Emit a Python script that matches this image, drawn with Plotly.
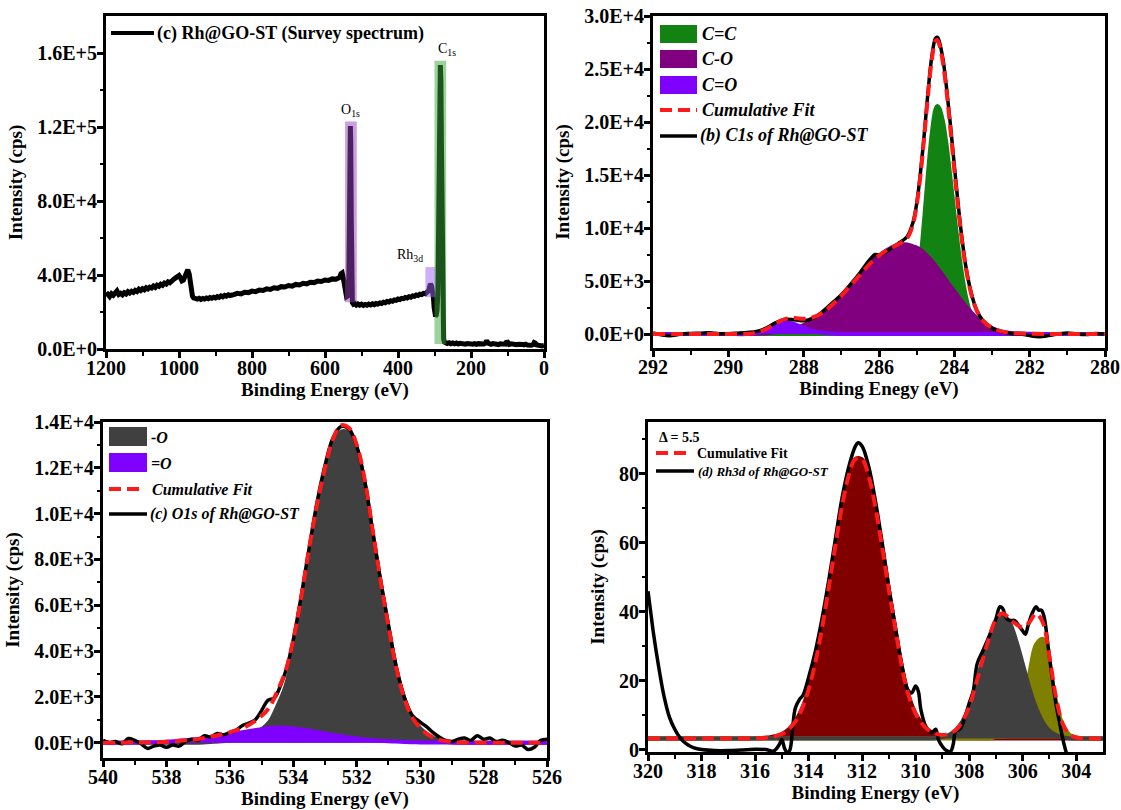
import plotly.graph_objects as go

W, H = 1121, 810
FONT = '"Liberation Serif", "Times New Roman", Times, serif'

# ---------------- (a) survey spectrum ----------------
SURVEY_E = [
    1200, 1195, 1190, 1185, 1180, 1175, 1170, 1165, 1160, 1155,
    1150, 1145, 1140, 1135, 1130, 1125, 1120, 1115, 1110, 1105,
    1100, 1095, 1090, 1085, 1080, 1075, 1070, 1065, 1060, 1055,
    1050, 1045, 1040, 1035, 1030, 1025, 1020, 1015, 1010, 1005,
    1000, 996, 992, 988, 984, 980, 976, 972, 969, 966,
    963, 960, 955, 950, 945, 940, 935, 930, 925, 920,
    915, 910, 905, 900, 895, 890, 885, 880, 875, 870,
    865, 860, 850, 840, 830, 820, 810, 800, 790, 780,
    770, 760, 750, 740, 730, 720, 710, 700, 690, 680,
    670, 660, 650, 640, 630, 620, 610, 600, 590, 580,
    570, 565, 560, 556, 553, 550, 547, 544, 541, 538,
    535, 533, 531.5, 530.5, 529.5, 528, 526.5, 525, 522, 518,
    514, 510, 505, 500, 495, 490, 485, 480, 475, 470,
    465, 460, 455, 450, 445, 440, 435, 430, 425, 420,
    415, 410, 405, 400, 395, 390, 385, 380, 375, 370,
    365, 360, 355, 350, 345, 340, 335, 330, 325, 320,
    316, 313, 311, 309, 307, 305, 303, 301, 299, 297,
    295, 293, 291, 289, 287, 285.5, 284, 282.5, 281, 279.5,
    278, 276.5, 275, 273, 270, 265, 260, 255, 250, 245,
    240, 235, 230, 225, 220, 215, 210, 205, 200, 195,
    190, 185, 180, 175, 170, 165, 160, 157, 154, 150,
    145, 140, 135, 130, 125, 120, 115, 110, 105, 102,
    99, 95, 90, 85, 80, 75, 70, 65, 60, 55,
    50, 45, 40, 35, 30, 27, 24, 20, 15, 10,
    5, 0]
SURVEY_I = [
    28800, 29600, 28400, 29900, 29100, 30200, 31400, 29500, 30100, 29300,
    30400, 29800, 31000, 30300, 31200, 30600, 31700, 31100, 32300, 31600,
    32600, 32000, 33100, 32500, 33400, 33000, 34000, 33300, 34500, 33900,
    35000, 34400, 35600, 35100, 36300, 35800, 37000, 37600, 38300, 39000,
    39700, 38500, 36800, 37200, 39500, 42000, 42800, 40500, 36000, 31000,
    28500, 27600, 27200, 27000, 27400, 26800, 27300, 27000, 27600, 27200,
    27800, 27400, 28000, 27600, 28300, 27900, 28700, 28200, 29000, 28600,
    29300, 28900, 29400, 30100, 29800, 30700, 30500, 31300, 31000, 31900,
    31600, 32500, 32200, 33100, 32800, 33700, 33500, 34300, 34000, 34900,
    34600, 35500, 35200, 36100, 35900, 36700, 36500, 37300, 37100, 37900,
    37700, 38300, 38700, 40800, 41200, 38500, 33500, 29500, 28200, 28600,
    32000, 70000, 112000, 120500, 112000, 70000, 32000, 25000, 24200, 24600,
    23800, 24300, 23700, 24200, 23600, 24100, 23700, 24300, 23800, 24400,
    24000, 24600, 24300, 24900, 24600, 25300, 25000, 25700, 25400, 26100,
    25800, 26500, 26300, 27000, 26700, 27400, 27200, 27900, 27600, 28300,
    28000, 28700, 28500, 29200, 28900, 29600, 29400, 30100, 29900, 30600,
    31500, 34000, 35200, 34500, 33000, 31500, 28000, 22500, 19500, 17500,
    18500, 21000, 30000, 60000, 110000, 145000, 153500, 145000, 110000, 65000,
    30000, 12000, 5500, 3800, 3300, 3000, 3400, 2900, 3300, 2800,
    3200, 2700, 3100, 2700, 3000, 2600, 3000, 2700, 3100, 2600,
    2900, 2500, 2900, 2600, 3000, 2700, 3300, 4600, 3200, 2900,
    2500, 2900, 2500, 2800, 2400, 2800, 2500, 2900, 2600, 4300,
    2900, 2500, 2800, 2400, 2700, 2300, 2600, 2200, 2500, 2200,
    2600, 2100, 2400, 2000, 2300, 3500, 3200, 2200, 1900, 2200,
    1700, 1900]

# highlighted regions of the survey (eV range, cps range) and their labels
REGION_LABELS = ["O<sub>1s</sub>", "Rh<sub>3d</sub>", "C<sub>1s</sub>"]
REGION_E_LO = [513, 297, 268]
REGION_E_HI = [545, 325, 300]
REGION_I_LO = [25300, 28000, 2700]
REGION_I_HI = [123000, 44300, 155800]
REGION_COLORS = ["#9a3fc0", "#a060f0", "#3aa83a"]
LABEL_E = [530, 368, 266]
LABEL_I = [123500, 45000, 156200]

# ---------------- (b) C1s ----------------
C1S_E = [292, 291.5, 291, 290.5, 290, 289.5, 289.25, 289, 288.75, 288.5,
         288.25, 288, 287.75, 287.5, 287.25, 287, 286.75, 286.5, 286.25, 286,
         285.75, 285.5, 285.25, 285.1, 285, 284.9, 284.8, 284.7, 284.6, 284.5,
         284.45, 284.4, 284.3, 284.2, 284.1, 284, 283.9, 283.8, 283.7, 283.6,
         283.5, 283.4, 283.25, 283, 282.75, 282.5, 282, 281.5, 281, 280.5, 280]
C1S_CC = [0, 0, 0, 0, 0, 0, 0, 0, 0, 0,
          0, 0, 0, 0, 0, 0, 0, 0, 0, 0,
          5, 47, 610, 2050, 4000, 7000, 10900, 15200, 18900, 21200,
          21500, 21330, 20040, 17690, 14660, 11420, 8360, 5740, 3700, 2250,
          1280, 690, 240, 30, 0, 0, 0, 0, 0, 0, 0]
C1S_CO = [0, 0, 0, 0, 0, 10, 30, 80, 170, 320,
          550, 850, 1300, 1900, 2700, 3600, 4600, 5600, 6600, 7400,
          8000, 8400, 8450, 8270, 8150, 7950, 7650, 7300, 6900, 6450,
          6220, 6000, 5500, 5000, 4500, 4050, 3550, 3100, 2650, 2250,
          1850, 1500, 1050, 550, 250, 100, 20, 0, 0, 0, 0]
C1S_CDO = [0, 0, 0, 0, 0, 0, 100, 380, 800, 1080,
           950, 580, 280, 110, 40, 10, 0, 0, 0, 0,
           0, 0, 0, 0, 0, 0, 0, 0, 0, 0,
           0, 0, 0, 0, 0, 0, 0, 0, 0, 0,
           0, 0, 0, 0, 0, 0, 0, 0, 0, 0, 0]
C1S_FIT = [0, 0, 0, 0, 0, 10, 130, 460, 970, 1400,
           1500, 1430, 1580, 2010, 2740, 3610, 4600, 5600, 6600, 7400,
           8005, 8447, 9060, 10320, 12150, 14950, 18550, 22500, 25800, 27650,
           27720, 27330, 25540, 22690, 19160, 15470, 11910, 8840, 6350, 4500,
           3130, 2190, 1290, 580, 250, 100, 20, 0, 0, 0, 0]
C1S_DATA_E = [292, 291.75, 291.5, 291.25, 291, 290.75, 290.5, 290.25, 290,
              289.75, 289.5, 289.25, 289, 288.75, 288.5, 288.25, 288, 287.75, 287.5,
              287.25, 287, 286.75, 286.5, 286.25, 286.1, 286, 285.75, 285.5, 285.25,
              285.1, 285, 284.9, 284.8, 284.7, 284.6, 284.5, 284.45, 284.4, 284.3,
              284.2, 284.1, 284, 283.9, 283.8, 283.7, 283.6, 283.5, 283.4,
              283.25, 283, 282.75, 282.5, 282.25, 282, 281.75, 281.5, 281.25, 281,
              280.75, 280.5, 280.25, 280]
C1S_DATA_I = [100, -100, -150, 0, 50, 80, 120, 30, 20,
              80, 150, 250, 550, 1050, 1380, 1350, 1250, 1500, 2100,
              2900, 3700, 4700, 5800, 7000, 7500, 7450, 7900, 8500, 9200,
              10500, 12300, 15200, 18800, 22800, 26100, 27900, 28000, 27600, 25900,
              23000, 19600, 15900, 12300, 9100, 6500, 4600, 3200, 2200,
              1300, 550, 200, 50, 0, -150, -250, -150, 0, 100,
              0, -50, 50, 0]

# ---------------- (c) O1s ----------------
O1S_E = [540, 539.5, 539, 538.5, 538, 537.5, 537, 536.5, 536, 535.5, 535,
         534.75, 534.5, 534.25, 534, 533.75, 533.5, 533.25, 533, 532.75, 532.5,
         532.25, 532, 531.75, 531.5, 531.25, 531, 530.75, 530.5, 530.25, 530,
         529.75, 529.5, 529, 528.5, 528, 527.5, 527, 526.5, 526]
O1S_SINGLE = [0, 0, 0, 0, 0, 0, 0, 40, 90, 220, 580,
              910, 1600, 2450, 3860, 5770, 7960, 9940, 11600, 12910, 13570,
              13520, 12820, 11360, 9190, 7020, 5040, 3205, 1920, 1080, 638,
              342, 165, 30, 0, 0, 0, 0, 0, 0]
O1S_DOUBLE = [0, 0, 5, 15, 40, 90, 160, 250, 360, 480, 590,
              640, 660, 650, 620, 580, 520, 460, 400, 340, 280,
              230, 180, 140, 110, 80, 60, 45, 30, 20, 12,
              8, 5, 0, 0, 0, 0, 0, 0, 0]
O1S_FIT = [0, 0, 5, 15, 40, 90, 160, 290, 450, 700, 1170,
           1550, 2260, 3100, 4480, 6350, 8480, 10400, 12000, 13250, 13850,
           13750, 13000, 11500, 9300, 7100, 5100, 3250, 1950, 1100, 650,
           350, 170, 30, 0, 0, 0, 0, 0, 0]
O1S_DATA_E = [540, 539.8, 539.6, 539.4, 539.2, 539, 538.8, 538.6, 538.4, 538.2,
              538, 537.8, 537.6, 537.4, 537.2, 537, 536.8, 536.6, 536.4, 536.2,
              536, 535.8, 535.6, 535.4, 535.2, 535,
              534.8, 534.6, 534.4, 534.2, 534,
              533.75, 533.5, 533.25, 533, 532.75, 532.5, 532.25, 532, 531.75, 531.5,
              531.25, 531, 530.75, 530.5, 530.25,
              530, 529.8, 529.6, 529.4, 529.2, 529, 528.8, 528.6, 528.4, 528.2,
              528, 527.8, 527.6, 527.4, 527.2, 527, 526.8, 526.6, 526.4, 526.2, 526]
O1S_DATA_I = [100, 0, 50, -50, 180, 100, -50, -250, -150, -100,
              -200, -100, -150, 50, 150, 100, 300, 250, 400, 350,
              450, 550, 750, 850, 1000, 1400,
              1850, 1950, 2500, 3300, 4500,
              6400, 8500, 10500, 12100, 13300, 13800, 13700, 12950, 11450, 9250,
              7100, 5150, 3300, 2000, 1200,
              900, 700, 450, 250, 100, 50, 150, 200, 100, 300,
              150, 200, 50, 100, 0, -150, -100, -300, -200, 100, 150]

# ---------------- (d) Rh3d ----------------
RH_BASE = 3.3
RH_E = [320, 319, 318, 317, 316, 315.5, 315,
        314.75, 314.5, 314.25, 314, 313.75, 313.5, 313.25, 313, 312.75, 312.5,
        312.25, 312, 311.75, 311.5, 311.25, 311, 310.75, 310.5, 310.25, 310,
        309.75, 309.5, 309.25, 309, 308.75, 308.5, 308.25, 308, 307.75, 307.5,
        307.25, 307, 306.75, 306.5, 306.25, 306, 305.75, 305.5, 305.25, 305,
        304.75, 304.5, 304.25, 304, 303.5, 303]
RH_PEAK1 = [3.3, 3.3, 3.3, 3.3, 3.35, 3.6, 4.6,
            5.9, 8.2, 11.9, 17.5, 25.3, 35.2, 46.9, 59.2, 70.6, 79.5,
            84.3, 84.2, 79.2, 70.2, 58.7, 46.4, 34.8, 23.5, 15.5, 10.5,
            7.5, 5.6, 4.6, 3.9, 3.6, 3.4, 3.3, 3.3, 3.3, 3.3,
            3.3, 3.3, 3.3, 3.3, 3.3, 3.3, 3.3, 3.3, 3.3, 3.3,
            3.3, 3.3, 3.3, 3.3, 3.3, 3.3]
RH_PEAK2 = [3.3, 3.3, 3.3, 3.3, 3.3, 3.3, 3.3,
            3.3, 3.3, 3.3, 3.3, 3.3, 3.3, 3.3, 3.3, 3.3, 3.3,
            3.3, 3.3, 3.3, 3.3, 3.3, 3.3, 3.3, 3.3, 3.3, 3.3,
            3.3, 3.3, 3.4, 3.7, 4.4, 5.7, 8.3, 12.5, 19.0, 26.0,
            32.5, 37.3, 39.0, 37.1, 31.9, 25.0, 18.0, 12.2, 8.1, 5.6,
            4.3, 3.7, 3.4, 3.3, 3.3, 3.3]
RH_PEAK3 = [3.3, 3.3, 3.3, 3.3, 3.3, 3.3, 3.3,
            3.3, 3.3, 3.3, 3.3, 3.3, 3.3, 3.3, 3.3, 3.3, 3.3,
            3.3, 3.3, 3.3, 3.3, 3.3, 3.3, 3.3, 3.3, 3.3, 3.3,
            3.3, 3.3, 3.3, 3.3, 3.3, 3.3, 3.3, 3.3, 3.3, 3.3,
            3.3, 3.8, 3.9, 4.2, 7.9, 13.8, 22.3, 30.6, 32.2, 24.7,
            14.0, 7.1, 4.4, 3.6, 3.3, 3.3]
RH_FIT = [3.3, 3.3, 3.3, 3.3, 3.35, 3.6, 4.6,
          5.9, 8.2, 11.9, 17.5, 25.3, 35.2, 46.9, 59.2, 70.6, 79.5,
          84.3, 84.2, 79.2, 70.2, 58.7, 46.4, 34.8, 23.5, 15.5, 10.5,
          7.5, 5.6, 4.7, 4.3, 4.7, 5.8, 8.3, 12.5, 19.0, 26.0,
          32.6, 37.8, 39.6, 38.0, 36.5, 35.5, 37.0, 39.5, 37.0, 27.0,
          15.0, 7.5, 4.5, 3.6, 3.3, 3.3]
RH_BASELINE = [RH_BASE for _ in RH_E]
RH_DATA_E = [320, 319.9, 319.8, 319.6, 319.4, 319.2, 319, 318.8, 318.6, 318.4,
             318.2, 318, 317.5, 317, 316.5, 316, 315.6, 315.3, 315.1, 315.0,
             314.9, 314.8, 314.7, 314.6, 314.5, 314.35, 314.2, 314, 313.75, 313.5,
             313.25, 313, 312.75, 312.5, 312.25, 312.15, 312, 311.75, 311.5, 311.25,
             311, 310.75, 310.5, 310.3, 310.15, 310.0, 309.9, 309.8, 309.6, 309.4,
             309.25, 309.15, 309, 308.85, 308.7, 308.6, 308.5, 308.35, 308.2, 308,
             307.85, 307.7, 307.5, 307.25, 307, 306.85, 306.75, 306.6, 306.45, 306.3,
             306.15, 306.0, 305.9, 305.8, 305.65, 305.5, 305.4, 305.3, 305.2, 305.05,
             304.9, 304.75, 304.6, 304.45, 304.3, 304.0, 303.5, 303]
RH_DATA_I = [46, 40, 34, 24, 15.5, 9.5, 6, 3.5, 2, 1,
             0.4, 0.1, -0.2, -0.2, 0, 0.2, 0.1, -0.3, 1.5, 3,
             0.5, -0.8, 0, 6, 12, 14.5, 16, 21, 28.5, 38,
             49, 61, 73, 82, 88, 89, 88, 82, 72, 60,
             47, 35, 24, 17.5, 16.5, 18.5, 17, 11.5, 6.5, 5,
             6, 3, 1, -0.2, -0.5, 1.5, 5.5, 6, 8.5, 13.5,
             17, 25, 28.5, 33, 38, 41.5, 41, 38, 37.5, 37.5,
             36, 34.5, 33.5, 36, 39.5, 41.5, 40.5, 40.5, 38.5, 30,
             21, 13, 7, 1.5, -2, -4, -5, -5]

# ---------------- ticks ----------------
P1_XT = [1200, 1000, 800, 600, 400, 200, 0]
P1_XM = [1100, 900, 700, 500, 300, 100]
P1_YT = [0, 40000, 80000, 120000, 160000]
P1_YL = ["0.0E+0", "4.0E+4", "8.0E+4", "1.2E+5", "1.6E+5"]
P1_YM = [20000, 60000, 100000, 140000]
P2_XT = [292, 290, 288, 286, 284, 282, 280]
P2_XM = [291, 289, 287, 285, 283, 281]
P2_YT = [0, 5000, 10000, 15000, 20000, 25000, 30000]
P2_YL = ["0.0E+0", "5.0E+3", "1.0E+4", "1.5E+4", "2.0E+4", "2.5E+4", "3.0E+4"]
P2_YM = [2500, 7500, 12500, 17500, 22500, 27500]
P3_XT = [540, 538, 536, 534, 532, 530, 528, 526]
P3_XM = [539, 537, 535, 533, 531, 529, 527]
P3_YT = [0, 2000, 4000, 6000, 8000, 10000, 12000, 14000]
P3_YL = ["0.0E+0", "2.0E+3", "4.0E+3", "6.0E+3", "8.0E+3", "1.0E+4", "1.2E+4", "1.4E+4"]
P3_YM = [1000, 3000, 5000, 7000, 9000, 11000, 13000]
P4_XT = [320, 318, 316, 314, 312, 310, 308, 306, 304]
P4_XM = [319, 317, 315, 313, 311, 309, 307, 305]
P4_YT = [0, 20, 40, 60, 80]
P4_YM = [10, 30, 50, 70, 90]

RED = "#ff1a1a"
DASH = "12px,6px"

fig = go.Figure()

def comp(x, y, color, xa, ya, fill="tozeroy"):
    fig.add_trace(go.Scatter(x=x, y=y, mode="lines", line=dict(color=color, width=4, shape="spline"),
                             fill=fill, fillcolor=color, xaxis=xa, yaxis=ya, hoverinfo="skip"))

def base(x, y, xa, ya):
    fig.add_trace(go.Scatter(x=x, y=y, mode="lines", line=dict(width=0, color="rgba(0,0,0,0)"),
                             xaxis=xa, yaxis=ya, hoverinfo="skip"))

def data_line(x, y, xa, ya, width=3.5, shape="spline"):
    fig.add_trace(go.Scatter(x=x, y=y, mode="lines", line=dict(color="black", width=width, shape=shape),
                             xaxis=xa, yaxis=ya))

def fit_line(x, y, xa, ya):
    fig.add_trace(go.Scatter(x=x, y=y, mode="lines",
                             line=dict(color=RED, width=4, dash=DASH, shape="spline"),
                             xaxis=xa, yaxis=ya))

# panel (a)
data_line(SURVEY_E, SURVEY_I, "x", "y", width=5, shape="linear")
# panel (b)
comp(C1S_E, C1S_CC, "#128212", "x2", "y2")
comp(C1S_E, C1S_CO, "#800080", "x2", "y2")
comp(C1S_E, C1S_CDO, "#8000ff", "x2", "y2")
data_line(C1S_DATA_E, C1S_DATA_I, "x2", "y2")
fit_line(C1S_E, C1S_FIT, "x2", "y2")
# panel (c)
comp(O1S_E, O1S_SINGLE, "#404040", "x3", "y3")
comp(O1S_E, O1S_DOUBLE, "#8000ff", "x3", "y3")
data_line(O1S_DATA_E, O1S_DATA_I, "x3", "y3")
fit_line(O1S_E, O1S_FIT, "x3", "y3")
# panel (d)
base(RH_E, RH_BASELINE, "x4", "y4")
comp(RH_E, RH_PEAK1, "#800000", "x4", "y4", fill="tonexty")
base(RH_E, RH_BASELINE, "x4", "y4")
comp(RH_E, RH_PEAK3, "#808000", "x4", "y4", fill="tonexty")
base(RH_E, RH_BASELINE, "x4", "y4")
comp(RH_E, RH_PEAK2, "#404040", "x4", "y4", fill="tonexty")
data_line(RH_DATA_E, RH_DATA_I, "x4", "y4")
fit_line(RH_E, RH_FIT, "x4", "y4")


def axis(domain, rng, tickvals, ticktext, minor, anchor, title, is_x):
    d = dict(domain=domain, range=rng, anchor=anchor, automargin=False,
             showline=True, linewidth=3, linecolor="black", mirror=True,
             ticks="outside", ticklen=6, tickwidth=2.5, tickcolor="black",
             tickmode="array", tickvals=tickvals, ticktext=ticktext,
             ticklabelstandoff=-7 if is_x else -4,
             minor=dict(tickmode="array", tickvals=minor, ticks="outside",
                        ticklen=3.5, tickwidth=2, tickcolor="black"),
             showgrid=False, zeroline=False,
             tickfont=dict(family=FONT, size=20, color="black", weight="bold"),
             title=dict(text=title, standoff=3 if is_x else 10,
                        font=dict(family=FONT, size=19, color="black", weight="bold")))
    return d

def px_x(v):
    return v / W

def px_y(v):
    return 1 - v / H

layout = dict(
    width=W, height=H, margin=dict(l=0, r=0, t=0, b=0, pad=0, autoexpand=False),
    paper_bgcolor="white", plot_bgcolor="white", showlegend=False,
    font=dict(family=FONT, color="black"),
    xaxis=axis([px_x(106), px_x(544)], [1200, 0], P1_XT, [str(v) for v in P1_XT], P1_XM, "y",
               "Binding Energy (eV)", True),
    yaxis=axis([px_y(349), px_y(16)], [0, 180000], P1_YT, P1_YL, P1_YM, "x",
               "Intensity (cps)", False),
    xaxis2=axis([px_x(653), px_x(1105)], [292, 280], P2_XT, [str(v) for v in P2_XT], P2_XM, "y2",
                "Binding Enegy (eV)", True),
    yaxis2=axis([px_y(348), px_y(16)], [-1320, 30000], P2_YT, P2_YL, P2_YM, "x2",
                "Intensity (cps)", False),
    xaxis3=axis([px_x(103), px_x(547)], [540, 526], P3_XT, [str(v) for v in P3_XT], P3_XM, "y3",
                "Binding Energy (eV)", True),
    yaxis3=axis([px_y(758), px_y(422)], [-670, 14000], P3_YT, P3_YL, P3_YM, "x3",
                "Intensity (cps)", False),
    xaxis4=axis([px_x(648), px_x(1103)], [320, 303], P4_XT, [str(v) for v in P4_XT], P4_XM, "y4",
                "Binding Energy (eV)", True),
    yaxis4=axis([px_y(752), px_y(422)], [-0.6, 95], P4_YT, [str(v) for v in P4_YT], P4_YM, "x4",
                "Intensity (cps)", False),
)
fig.update_layout(**layout)

shapes = []
annotations = []

# highlight boxes of the survey
for lab, e0, e1, i0, i1, col, le, li in zip(REGION_LABELS, REGION_E_LO, REGION_E_HI, REGION_I_LO,
                                           REGION_I_HI, REGION_COLORS, LABEL_E, LABEL_I):
    shapes.append(dict(type="rect", xref="x", yref="y", x0=e0, x1=e1, y0=i0, y1=i1,
                       fillcolor=col, opacity=0.5, line=dict(width=0), layer="above"))
    annotations.append(dict(xref="x", yref="y", x=le, y=li, text=lab, showarrow=False,
                            xanchor="center", yanchor="bottom",
                            font=dict(family=FONT, size=14, color="black")))

# legends (drawn in page pixels)
def leg_rect(x0, y0, x1, y1, color):
    shapes.append(dict(type="rect", xref="paper", yref="paper", x0=px_x(x0), x1=px_x(x1),
                       y0=px_y(y1), y1=px_y(y0), fillcolor=color, line=dict(width=0)))

def leg_line(x0, x1, y, color, dash="solid", width=3.5):
    shapes.append(dict(type="line", xref="paper", yref="paper", x0=px_x(x0), x1=px_x(x1),
                       y0=px_y(y), y1=px_y(y), line=dict(color=color, width=width, dash=dash)))

def leg_text(x, y, text, size):
    annotations.append(dict(xref="paper", yref="paper", x=px_x(x), y=px_y(y), text=text,
                            showarrow=False, xanchor="left", yanchor="middle",
                            font=dict(family=FONT, size=size, color="black")))

# (a)
leg_line(111, 154, 33, "black", width=4)
leg_text(155, 33, "<b>(c) Rh@GO-ST (Survey spectrum)</b>", 18)
# (b)
leg_rect(660, 25, 697, 43, "#128212")
leg_text(700, 34, "<b><i>C=C</i></b>", 18)
leg_rect(660, 50, 697, 68, "#800080")
leg_text(700, 59, "<b><i>C-O</i></b>", 18)
leg_rect(660, 76, 697, 94, "#8000ff")
leg_text(700, 85, "<b><i>C=O</i></b>", 18)
leg_line(660, 697, 110, RED, dash=DASH, width=4)
leg_text(700, 110, "<b><i>Cumulative Fit</i></b>", 18)
leg_line(660, 697, 136, "black", width=3.5)
leg_text(698, 136, "<b><i>(b) C1s of Rh@GO-ST</i></b>", 18)
# (c)
leg_rect(109, 427, 147, 446, "#404040")
leg_text(149, 437, "<b><i>-O</i></b>", 16)
leg_rect(109, 453, 147, 472, "#8000ff")
leg_text(149, 463, "<b><i>=O</i></b>", 16)
leg_line(109, 145, 489, RED, dash=DASH, width=4)
leg_text(150, 489, "<b><i>Cumulative Fit</i></b>", 16)
leg_line(109, 147, 514, "black", width=3.5)
leg_text(148, 514, "<b><i>(c) O1s of Rh@GO-ST</i></b>", 16)
# (d)
leg_text(657, 437, "<b>Δ = 5.5</b>", 14)
leg_line(656, 690, 453, RED, dash=DASH, width=4)
leg_text(695, 453, "<b>Cumulative Fit</b>", 14)
leg_line(656, 694, 471, "black", width=3.5)
leg_text(696, 471, "<b><i>(d) Rh3d of Rh@GO-ST</i></b>", 13)

fig.update_layout(shapes=shapes, annotations=annotations)
fig.write_html("out.html")
